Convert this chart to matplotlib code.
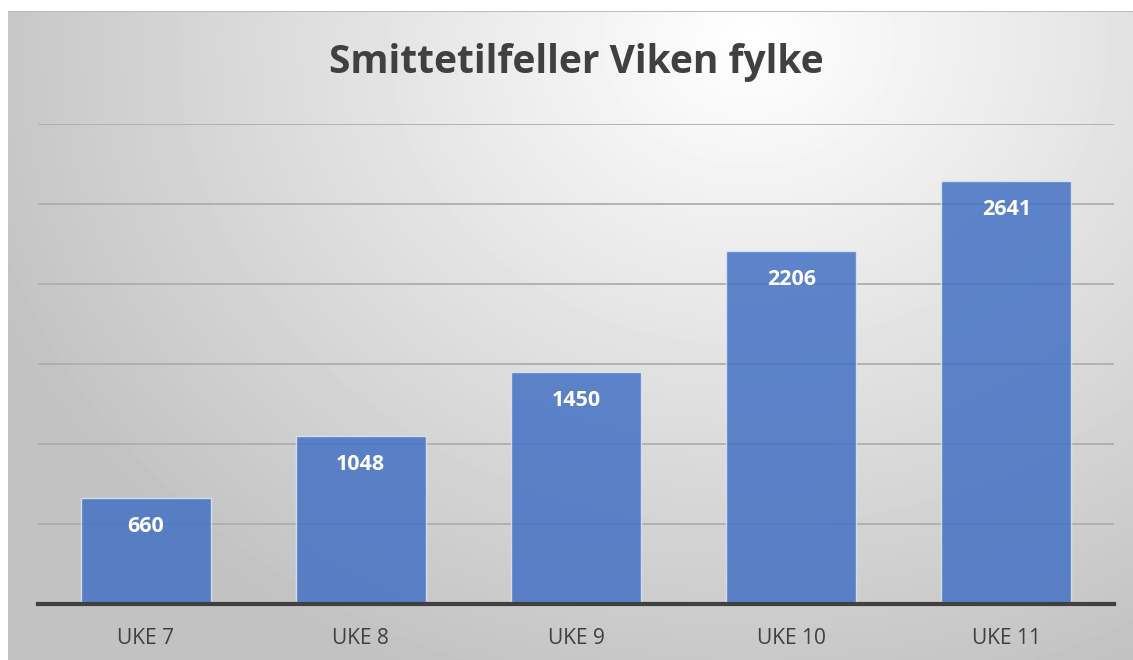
import matplotlib.pyplot as plt
import numpy as np

weeks = ["UKE 7", "UKE 8", "UKE 9", "UKE 10", "UKE 11"]
cases = [660, 1048, 1450, 2206, 2641]

W, H = 1133, 660
fig = plt.figure(figsize=(W / 100, H / 100), dpi=100)

# background panel with radial gradient (light top centre, grey corners)
bg = fig.add_axes([8 / W, 0, 1 - 8 / W, 1 - 11 / H])
bg.set_axis_off()
yy, xx = np.mgrid[0:649, 0:1125]
d = np.sqrt(((xx - 740) / 850.0) ** 2 + ((yy - 30) / 720.0) ** 2)
shade = np.clip(1.0 - 0.25 * d, 0.76, 1.0)
bg.imshow(shade, cmap="gray", vmin=0, vmax=1, aspect="auto",
          extent=[0, 1, 0, 1], origin="upper")
bg.plot([0, 1], [1, 1], color="#bdbdbd", lw=1.5, transform=bg.transAxes)
bg.set_xlim(0, 1)
bg.set_ylim(0, 1)

ax = fig.add_axes([38 / W, (H - 604) / H, (1114 - 38) / W, (604 - 124) / H])
ax.patch.set_alpha(0)
x = np.arange(len(weeks))
bars = ax.bar(x, cases, width=0.605, color="#4472C4", alpha=0.85,
              edgecolor="#dfe6f3", linewidth=1, zorder=3)
for rect, v in zip(bars, cases):
    ax.text(rect.get_x() + rect.get_width() / 2, v - 178, str(v),
            ha="center", va="center", color="white", fontsize=15.5,
            fontweight="bold", family="Open Sans", zorder=4)

ax.set_xlim(-0.5, len(weeks) - 0.5)
ax.set_ylim(0, 3000)
ax.set_yticks(np.arange(500, 3001, 500))
ax.set_yticklabels([])
ax.tick_params(axis="y", length=0)
ax.grid(axis="y", color="#aeaeae", linewidth=1.3, zorder=1)
ax.set_xticks(x)
ax.set_xticklabels(weeks, fontsize=15, color="#404040", family="Open Sans")
ax.tick_params(axis="x", length=0, pad=17)
for s in ["top", "right", "left"]:
    ax.spines[s].set_visible(False)
ax.spines["bottom"].set_color("#404040")
ax.spines["bottom"].set_linewidth(3)
ax.spines["bottom"].set_zorder(5)

fig.text(576 / W, 1 - 62 / H, "Smittetilfeller Viken fylke", ha="center",
         va="center", fontsize=28, fontweight="bold", color="#404040",
         family="Open Sans")

fig.savefig("out.png", dpi=100)
